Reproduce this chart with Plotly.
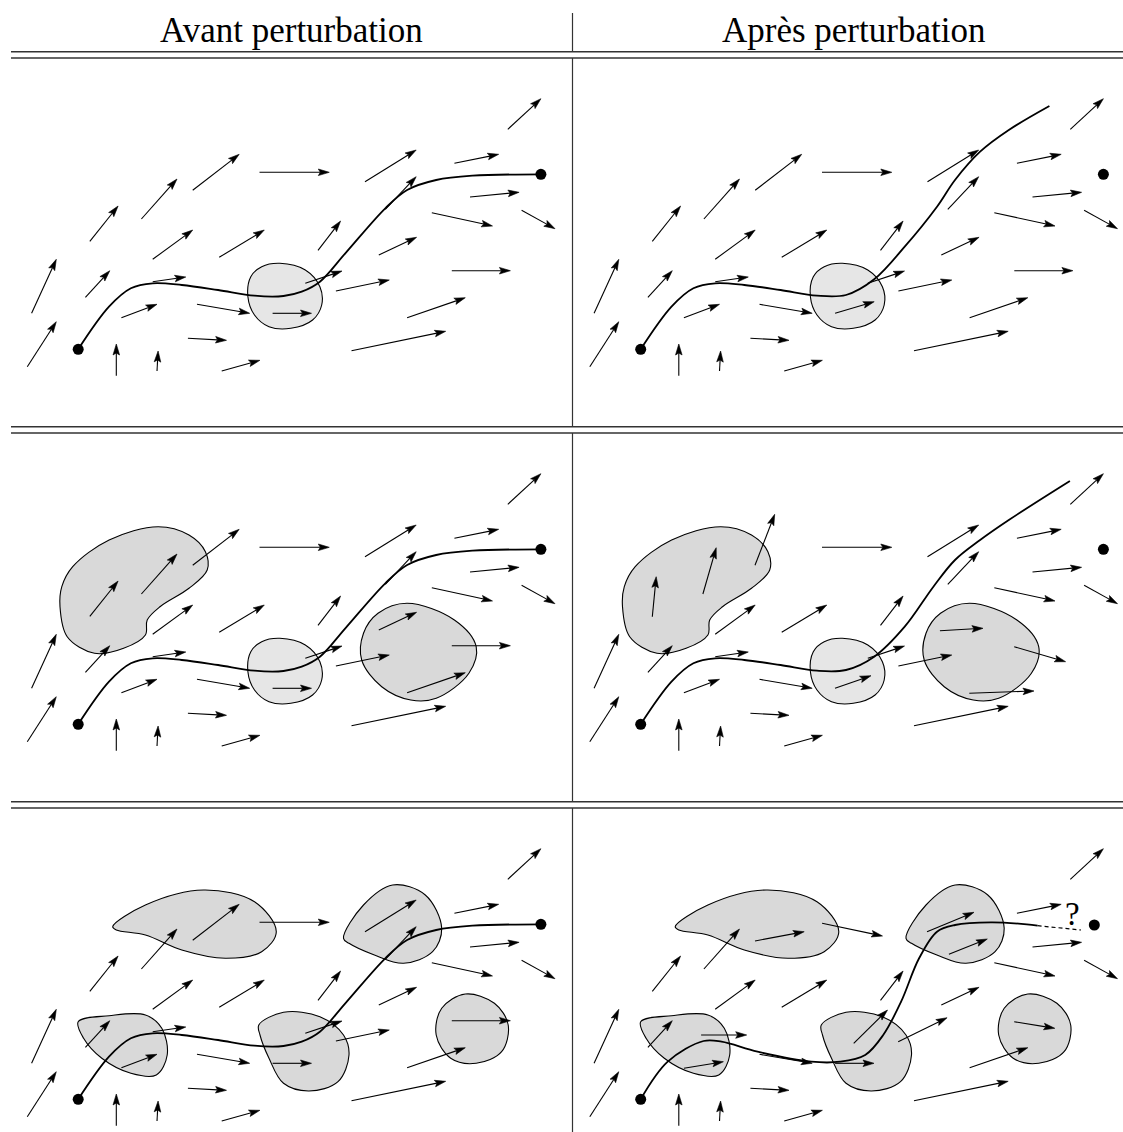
import math
import plotly.graph_objects as go

W, H = 1123, 1132

# ---------------- layout of the table ----------------
COL_TITLES = ["Avant perturbation", "Après perturbation"]
COL_TITLE_X = [291.0, 853.0]
COL_DX = [0.0, 562.5]          # horizontal offset of each column
ROW_DY = [0.0, 375.0, 750.0]   # vertical offset of each row
HLINE_Y = [[51.7, 58.0], [426.7, 433.0], [801.7, 808.0]]
VLINE_X = 572.5

# ---------------- base vector field (row-1 / left frame) ----------------
ARROW_X0 = [27.3, 31.6, 85.4, 89.8, 141.4, 192.7, 259.5, 365.0, 507.8, 454.4,
            470.0, 431.8, 521.6, 152.7, 219.2, 318.0, 385.3, 378.8, 451.8, 152.7,
            121.4, 197.0, 272.6, 305.3, 335.9, 407.1, 351.5, 187.9, 221.7, 116.3, 157.0]
ARROW_Y0 = [366.7, 313.3, 297.3, 241.3, 219.0, 190.3, 172.3, 181.7, 129.3, 163.3,
            197.0, 212.7, 210.3, 259.3, 257.3, 250.3, 209.3, 255.0, 270.7, 281.7,
            317.7, 304.3, 313.3, 283.3, 291.0, 317.7, 350.7, 338.3, 371.0, 375.7, 371.0]
ARROW_X1 = [56.3, 56.3, 109.8, 118.1, 177.0, 239.2, 329.3, 416.2, 540.9, 498.7,
            519.1, 492.5, 555.0, 192.7, 264.3, 340.6, 416.2, 416.6, 510.4, 185.8,
            157.0, 249.7, 311.5, 342.0, 389.3, 465.3, 445.7, 226.5, 259.9, 116.3, 158.1]
ARROW_Y1 = [321.7, 259.3, 270.7, 206.0, 179.0, 154.3, 172.3, 150.0, 98.7, 154.3,
            192.3, 226.0, 228.7, 230.0, 230.0, 221.0, 176.7, 237.3, 270.7, 277.0,
            304.3, 313.3, 313.3, 271.0, 280.0, 297.7, 331.3, 340.3, 360.3, 344.0, 351.0]

# arrows changed by the perturbation: (row, col) -> {index: (x0, y0, x1, y1)}
ARROW_CHANGES = {
    (0, 1): {22: (272.6, 313.3, 311.7, 301.7)},
    (1, 1): {3: (89.8, 241.7, 93.7, 201.7),
             4: (140.4, 219.0, 153.7, 172.7),
             5: (192.5, 190.3, 212.2, 139.3),
             17: (377.4, 255.7, 420.5, 253.3),
             18: (451.7, 271.7, 503.1, 286.7),
             22: (272.5, 313.3, 308.5, 300.7),
             25: (406.8, 318.3, 471.5, 316.0)},
    (2, 1): {5: (192.5, 191.0, 241.7, 181.7),
             6: (259.6, 173.3, 320.0, 186.0),
             7: (364.5, 181.7, 411.5, 162.3),
             16: (386.4, 204.3, 424.8, 189.0),
             18: (451.7, 271.7, 492.3, 278.3),
             19: (138.6, 285.0, 184.2, 285.0),
             20: (121.4, 318.3, 160.9, 311.7),
             23: (291.2, 293.3, 325.0, 260.0),
             24: (335.7, 291.7, 384.6, 267.7)},
}

# ---------------- obstacles (closed outlines) ----------------
BLOB_A_X = [158.1, 109.1, 72.7, 61.8, 60.0, 67.2, 94.5, 123.6, 145.4, 147.2, 160.0, 189.0, 207.2, 205.4, 189.0]
BLOB_A_Y = [151.7, 165.0, 191.7, 211.7, 231.7, 261.7, 278.3, 273.3, 260.0, 245.0, 231.7, 213.3, 195.0, 176.7, 160.0]
BLOB_B_X = [279.9, 305.3, 319.9, 321.7, 312.6, 290.8, 269.0, 254.5, 247.9, 250.8, 261.7]
BLOB_B_Y = [263.3, 270.0, 286.7, 305.0, 320.0, 328.3, 326.7, 315.0, 296.7, 276.7, 266.7]
BLOB_C_X = [407.1, 454.4, 476.2, 468.9, 436.2, 410.8, 381.7, 361.7, 363.5, 378.0]
BLOB_C_Y = [228.3, 245.0, 271.7, 298.3, 323.3, 325.0, 311.7, 285.0, 258.3, 238.3]
BLOB_D_X = [112.7, 145.4, 203.6, 254.5, 276.3, 261.7, 225.4, 181.8, 145.4, 116.3]
BLOB_D_Y = [176.7, 155.0, 140.0, 151.7, 181.7, 201.7, 208.3, 200.0, 185.0, 180.0]
BLOB_E_X = [343.5, 363.5, 392.6, 425.3, 441.7, 432.6, 403.5, 374.4, 349.0]
BLOB_E_Y = [188.3, 155.0, 135.0, 145.0, 178.3, 201.7, 213.3, 205.0, 193.3]
BLOB_F_X = [78.2, 109.1, 145.4, 161.8, 167.2, 156.3, 130.9, 101.8, 83.6]
BLOB_F_Y = [271.7, 265.7, 265.0, 278.3, 305.0, 325.0, 323.3, 308.3, 288.3]
BLOB_G_X = [258.8, 283.5, 319.9, 343.5, 349.0, 338.0, 309.0, 283.5, 269.0, 260.0]
BLOB_G_Y = [275.0, 262.3, 266.7, 285.0, 305.0, 331.7, 341.0, 333.3, 308.3, 285.0]
BLOB_H_X = [465.3, 494.4, 508.2, 501.6, 476.2, 450.7, 436.2, 441.7]
BLOB_H_Y = [244.0, 253.3, 275.0, 301.7, 313.3, 308.3, 285.0, 258.3]

LIGHT, DARK = "#e6e6e6", "#d9d9d9"
ROW_BLOBS = [
    [(BLOB_B_X, BLOB_B_Y, LIGHT)],
    [(BLOB_A_X, BLOB_A_Y, DARK), (BLOB_B_X, BLOB_B_Y, LIGHT), (BLOB_C_X, BLOB_C_Y, DARK)],
    [(BLOB_D_X, BLOB_D_Y, DARK), (BLOB_E_X, BLOB_E_Y, DARK), (BLOB_F_X, BLOB_F_Y, DARK),
     (BLOB_G_X, BLOB_G_Y, DARK), (BLOB_H_X, BLOB_H_Y, DARK)],
]

# ---------------- trajectories ----------------
PATH_BEFORE_X = [78.2, 109.0, 130.9, 152.7, 181.8, 218.1, 254.5, 283.5, 301.7, 319.9, 345.3, 385.3, 407.1, 436.2, 472.6, 540.9]
PATH_BEFORE_Y = [349.3, 306.7, 288.3, 283.3, 285.0, 290.0, 295.7, 296.0, 291.7, 281.7, 253.3, 208.3, 190.0, 180.0, 175.7, 174.3]
PATH_AFTER1_X = [78.2, 109.0, 130.9, 152.7, 181.8, 218.1, 254.5, 283.5, 311.7, 342.2, 374.5, 392.5, 417.6, 446.3, 486.9]
PATH_AFTER1_Y = [349.3, 306.7, 288.3, 283.3, 285.0, 290.0, 295.7, 295.0, 279.3, 246.7, 206.7, 180.0, 151.7, 130.0, 106.0]
PATH_AFTER2_X = [78.2, 109.0, 130.9, 152.7, 181.8, 218.1, 254.5, 283.5, 311.7, 342.2, 370.9, 392.5, 417.6, 446.3, 507.4]
PATH_AFTER2_Y = [349.3, 306.7, 288.3, 283.3, 285.0, 290.0, 295.7, 295.0, 281.7, 251.7, 211.7, 185.0, 165.0, 145.0, 106.0]
PATH_AFTER3_X = [78.2, 105.2, 141.1, 159.1, 195.0, 248.8, 277.6, 302.7, 320.7, 338.6, 356.6, 374.5, 392.5, 428.4, 464.3, 475.1]
PATH_AFTER3_Y = [349.3, 311.7, 291.0, 291.7, 301.7, 311.7, 311.7, 305.0, 285.0, 251.7, 208.3, 181.7, 175.0, 172.3, 174.3, 175.7]
PATH_AFTER3_DASH_X = [475.1, 518.5]
PATH_AFTER3_DASH_Y = [175.7, 180.0]
QUESTION = "?"
QUESTION_XY = (510.0, 164.0)

START_XY = (78.2, 349.3)
GOAL_XY = [[(540.9, 174.3), (540.9, 174.3)],
           [(540.9, 174.3), (540.9, 174.3)],
           [(540.9, 174.3), (531.8, 175.0)]]

PATHS = {
    (0, 0): (PATH_BEFORE_X, PATH_BEFORE_Y),
    (1, 0): (PATH_BEFORE_X, PATH_BEFORE_Y),
    (2, 0): (PATH_BEFORE_X, PATH_BEFORE_Y),
    (0, 1): (PATH_AFTER1_X, PATH_AFTER1_Y),
    (1, 1): (PATH_AFTER2_X, PATH_AFTER2_Y),
    (2, 1): (PATH_AFTER3_X, PATH_AFTER3_Y),
}

# arrow-head style (axis units == pixels here)
HEAD_LEN, HEAD_HALF, HEAD_NOTCH = 11.0, 3.3, 2.0

fig = go.Figure()
annotations = []
shapes = []

shaft_x, shaft_y, head_x, head_y = [], [], [], []

for r, dy in enumerate(ROW_DY):
    for c, dx in enumerate(COL_DX):
        # obstacles
        for bx, by, col in ROW_BLOBS[r]:
            xs = [v + dx for v in bx] + [bx[0] + dx]
            ys = [v + dy for v in by] + [by[0] + dy]
            fig.add_trace(go.Scatter(x=xs, y=ys, mode="lines", fill="toself",
                                     fillcolor=col,
                                     line=dict(color="black", width=1.1, shape="spline", smoothing=1.0),
                                     hoverinfo="skip", showlegend=False))
        # vector field
        changes = ARROW_CHANGES.get((r, c), {})
        for i in range(len(ARROW_X0)):
            x0, y0, x1, y1 = changes.get(i, (ARROW_X0[i], ARROW_Y0[i], ARROW_X1[i], ARROW_Y1[i]))
            x0, x1 = x0 + dx, x1 + dx
            y0, y1 = y0 + dy, y1 + dy
            L = math.hypot(x1 - x0, y1 - y0)
            ux, uy = (x1 - x0) / L, (y1 - y0) / L
            nx, ny = -uy, ux
            bx_, by_ = x1 - HEAD_LEN * ux, y1 - HEAD_LEN * uy
            mx, my = x1 - (HEAD_LEN - HEAD_NOTCH) * ux, y1 - (HEAD_LEN - HEAD_NOTCH) * uy
            shaft_x += [x0, mx, None]
            shaft_y += [y0, my, None]
            head_x += [x1, bx_ + HEAD_HALF * nx, mx, bx_ - HEAD_HALF * nx, x1, None]
            head_y += [y1, by_ + HEAD_HALF * ny, my, by_ - HEAD_HALF * ny, y1, None]
        # trajectory
        px, py = PATHS[(r, c)]
        fig.add_trace(go.Scatter(x=[v + dx for v in px], y=[v + dy for v in py], mode="lines",
                                 line=dict(color="black", width=1.8, shape="spline", smoothing=1.0),
                                 hoverinfo="skip", showlegend=False))
        if (r, c) == (2, 1):
            fig.add_trace(go.Scatter(x=[v + dx for v in PATH_AFTER3_DASH_X],
                                     y=[v + dy for v in PATH_AFTER3_DASH_Y], mode="lines",
                                     line=dict(color="black", width=1.2, dash="4px,3px"),
                                     hoverinfo="skip", showlegend=False))
            annotations.append(dict(x=QUESTION_XY[0] + dx, y=QUESTION_XY[1] + dy, xref="x", yref="y",
                                    text=QUESTION, showarrow=False,
                                    font=dict(family="Liberation Serif", size=33, color="black")))
        # start / goal points
        gx, gy = GOAL_XY[r][c]
        fig.add_trace(go.Scatter(x=[START_XY[0] + dx, gx + dx], y=[START_XY[1] + dy, gy + dy],
                                 mode="markers", marker=dict(color="black", size=11),
                                 hoverinfo="skip", showlegend=False))

fig.add_trace(go.Scatter(x=shaft_x, y=shaft_y, mode="lines",
                         line=dict(color="black", width=1.1),
                         hoverinfo="skip", showlegend=False))
fig.add_trace(go.Scatter(x=head_x, y=head_y, mode="lines", fill="toself", fillcolor="black",
                         line=dict(color="black", width=0.6),
                         hoverinfo="skip", showlegend=False))

# table rules
for y_pair in HLINE_Y:
    for yy in y_pair:
        shapes.append(dict(type="line", xref="x", yref="y", x0=11, x1=W, y0=yy, y1=yy,
                           line=dict(color="#333333", width=1.4)))
v_segments = [(13.0, HLINE_Y[0][0]), (HLINE_Y[0][1], HLINE_Y[1][0]),
              (HLINE_Y[1][1], HLINE_Y[2][0]), (HLINE_Y[2][1], H)]
for a, b in v_segments:
    shapes.append(dict(type="line", xref="x", yref="y", x0=VLINE_X, x1=VLINE_X, y0=a, y1=b,
                       line=dict(color="#333333", width=1.2)))

for t, tx in zip(COL_TITLES, COL_TITLE_X):
    annotations.append(dict(x=tx, y=30, xref="x", yref="y", text=t, showarrow=False,
                            yanchor="middle",
                            font=dict(family="Liberation Serif", size=35, color="black")))

fig.update_layout(
    width=W, height=H, margin=dict(l=0, r=0, t=0, b=0),
    paper_bgcolor="white", plot_bgcolor="white",
    xaxis=dict(range=[0, W], visible=False, fixedrange=True),
    yaxis=dict(range=[H, 0], visible=False, fixedrange=True),
    annotations=annotations, shapes=shapes, showlegend=False,
)

fig.write_html("out.html", config={"displayModeBar": False},
               post_script="document.body.style.margin='0';")
